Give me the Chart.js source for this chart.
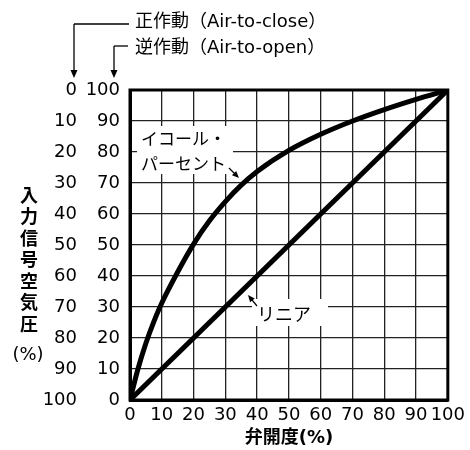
<!DOCTYPE html>
<html>
<head>
<meta charset="utf-8">
<script src="https://cdn.jsdelivr.net/npm/chart.js@4/dist/chart.umd.min.js"></script>
<style>
  body { margin: 0; background: #fff; }
</style>
</head>
<body>
<canvas id="valve" width="470" height="450"></canvas>
<script>
// valve opening (%) vs input air pressure (%)
var equalOpening = [0, 2.5, 5, 7.5, 10, 15, 20, 25, 30, 35, 40, 50, 60, 70, 80, 90, 100];
var equalFlow    = [0, 10, 18.3, 25.3, 31.3, 41.3, 50.3, 57.8, 64, 69.3, 73.7, 80.5, 85.7, 90, 93.7, 97, 100];
var linearOpening = [0, 100];
var linearFlow    = [0, 100];

var NUM = '"DejaVu Sans", "Noto Sans CJK JP", sans-serif';
var JP = '"Noto Sans CJK JP", sans-serif';

function toPoints(xs, ys) {
    return xs.map(function (x, i) { return { x: x, y: ys[i] }; });
}

function arrow(c, x1, y1, x2, y2, len, half) {
    var a = Math.atan2(y2 - y1, x2 - x1);
    c.beginPath();
    c.moveTo(x1, y1);
    c.lineTo(x2 - Math.cos(a) * len * 0.6, y2 - Math.sin(a) * len * 0.6);
    c.stroke();
    c.beginPath();
    c.moveTo(x2, y2);
    c.lineTo(x2 - Math.cos(a) * len - Math.sin(a) * half, y2 - Math.sin(a) * len + Math.cos(a) * half);
    c.lineTo(x2 - Math.cos(a) * len + Math.sin(a) * half, y2 - Math.sin(a) * len - Math.cos(a) * half);
    c.closePath();
    c.fill();
}

var annotate = {
    id: 'annotate',
    beforeDatasetsDraw: function (chart) {
        var c = chart.ctx;
        c.save();
        c.fillStyle = '#fff';
        c.fillRect(137, 126, 96, 48);
        c.fillRect(252, 299, 76, 27);
        c.restore();
    },
    afterDraw: function (chart) {
        var c = chart.ctx, a = chart.chartArea;
        c.save();
        c.strokeStyle = '#000';
        c.fillStyle = '#000';
        c.lineWidth = 3;
        c.strokeRect(a.left, a.top, a.right - a.left, a.bottom - a.top);

        // curve labels
        c.font = '17px ' + JP;
        c.textBaseline = 'middle';
        c.textAlign = 'left';
        c.fillText('イコール・', 141, 139);
        c.fillText('パーセント', 141, 164);
        c.font = '18px ' + JP;
        c.fillText('リニア', 257, 314);
        c.lineWidth = 1.2;
        arrow(c, 229, 168, 239, 178, 7, 3);
        arrow(c, 257, 306, 248, 295, 7, 3);

        // action legend at top
        c.font = '18px ' + NUM;
        c.fillText('正作動（Air-to-close）', 135, 22);
        c.fillText('逆作動（Air-to-open）', 135, 48);
        c.lineWidth = 1.3;
        c.beginPath();
        c.moveTo(129, 24); c.lineTo(74, 24);
        c.stroke();
        arrow(c, 74, 24, 74, 78, 8, 3.5);
        c.beginPath();
        c.moveTo(128, 46); c.lineTo(114, 46);
        c.stroke();
        arrow(c, 114, 46, 114, 78, 8, 3.5);

        // vertical y title
        c.font = 'bold 18px ' + JP;
        c.textAlign = 'center';
        '入力信号空気圧'.split('').forEach(function (ch, i) {
            c.fillText(ch, 29, 195 + i * 21.5);
        });
        c.font = '18px ' + NUM;
        c.fillText('(%)', 28, 355);
        c.restore();
    }
};

var tickFont = { family: NUM, size: 18 };

new Chart(document.getElementById('valve').getContext('2d'), {
    type: 'scatter',
    data: {
        datasets: [{
            label: 'イコール・パーセント',
            data: toPoints(equalOpening, equalFlow),
            showLine: true,
            borderColor: '#000',
            borderWidth: 5,
            pointRadius: 0,
            cubicInterpolationMode: 'monotone'
        }, {
            label: 'リニア',
            data: toPoints(linearOpening, linearFlow),
            showLine: true,
            borderColor: '#000',
            borderWidth: 5,
            pointRadius: 0
        }]
    },
    options: {
        responsive: false,
        animation: false,
        layout: { padding: { left: 0, right: 21, top: 90, bottom: 0 } },
        plugins: {
            legend: { display: false },
            tooltip: { enabled: false }
        },
        scales: {
            x: {
                type: 'linear',
                min: 0,
                max: 100,
                afterFit: function (s) { s.height = 50; },
                ticks: { stepSize: 10, color: '#000', padding: 5, autoSkip: false, minRotation: 0, maxRotation: 0, font: tickFont },
                grid: { color: '#222', lineWidth: 1.3, drawTicks: false },
                border: { display: true, color: '#000', width: 3 },
                title: {
                    display: true,
                    text: '弁開度(%)',
                    color: '#000',
                    font: { family: NUM, size: 18, weight: 'bold' },
                    padding: { top: 0, bottom: 1 }
                }
            },
            y: {
                type: 'linear',
                position: 'left',
                weight: 0,
                min: 0,
                max: 100,
                afterFit: function (s) { s.width = 50; },
                ticks: { stepSize: 10, color: '#000', padding: 10, font: tickFont },
                grid: { color: '#222', lineWidth: 1.3, drawTicks: false },
                border: { display: true, color: '#000', width: 3 }
            },
            y2: {
                type: 'linear',
                position: 'left',
                weight: 1,
                reverse: true,
                min: 0,
                max: 100,
                afterFit: function (s) { s.width = 80; },
                ticks: { stepSize: 10, color: '#000', padding: 3, font: tickFont },
                grid: { display: false, drawTicks: false },
                border: { display: false }
            }
        }
    },
    plugins: [annotate]
});
</script>
</body>
</html>
